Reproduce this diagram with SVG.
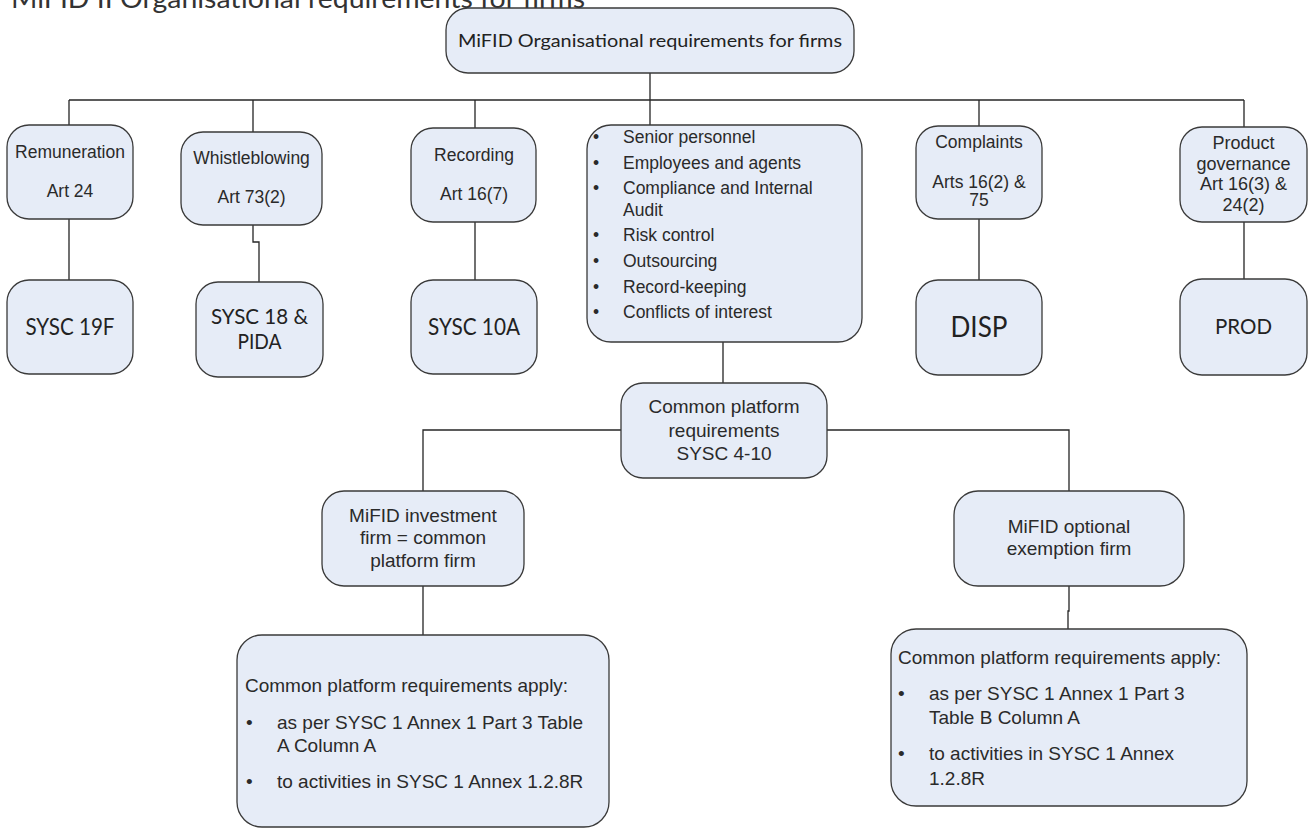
<svg xmlns="http://www.w3.org/2000/svg" width="1314" height="829" viewBox="0 0 1314 829">
<style>
.n{fill:#e6ecf7;stroke:#3a3a3a;stroke-width:1.3}
.c{fill:none;stroke:#262626;stroke-width:1.3}
.t{font-family:"Liberation Sans",Arial,sans-serif;fill:#2a2a2a;text-anchor:middle}
.l{font-family:"Liberation Sans",Arial,sans-serif;fill:#2a2a2a}
.k{font-family:Lato,"Open Sans",sans-serif;fill:#222;text-anchor:middle}
</style>
<rect width="1314" height="829" fill="#ffffff"/>
<text x="11" y="8" font-family="Lato,'Open Sans',sans-serif" font-size="27" fill="#333" textLength="574" lengthAdjust="spacingAndGlyphs">MiFID II Organisational requirements for firms</text>
<g id="connectors">
<path class="c" d="M650,73V100M69,100H1244M69,100V125M253,100V132M475,100V128M650,100V125M979,100V126M1244,100V127"/>
<path class="c" d="M69,219V280M253,225V242H259V282M475,222V280M979,219V280M1244,222V279"/>
<path class="c" d="M723,342V383M621,430H423V491M827,430H1069V491M423,586V635M1069,586V611H1068V629"/>
</g>
<g id="top"><rect class="n" x="446" y="8" width="408" height="65" rx="22"/>
<text class="k" x="650" y="47" font-size="17" textLength="384" lengthAdjust="spacingAndGlyphs">MiFID Organisational requirements for firms</text></g>
<g id="remuneration"><rect class="n" x="7" y="125" width="126" height="94" rx="22"/>
<text class="t" x="70" y="158" font-size="17.5">Remuneration</text><text class="t" x="70" y="197" font-size="17.5">Art 24</text></g>
<g id="whistleblowing"><rect class="n" x="181" y="132" width="141" height="93" rx="22"/>
<text class="t" x="251.5" y="164" font-size="17.5">Whistleblowing</text><text class="t" x="251.5" y="203" font-size="17.5">Art 73(2)</text></g>
<g id="recording"><rect class="n" x="411" y="128" width="125" height="94" rx="22"/>
<text class="t" x="474" y="161" font-size="17.5">Recording</text><text class="t" x="474" y="200" font-size="17.5">Art 16(7)</text></g>
<g id="senior"><rect class="n" x="587" y="125" width="275" height="217" rx="24"/>
<g class="l" font-size="17.5">
<text x="593" y="143">•</text><text x="623" y="143">Senior personnel</text>
<text x="593" y="169">•</text><text x="623" y="169">Employees and agents</text>
<text x="593" y="194">•</text><text x="623" y="194">Compliance and Internal</text>
<text x="623" y="216">Audit</text>
<text x="593" y="241">•</text><text x="623" y="241">Risk control</text>
<text x="593" y="267">•</text><text x="623" y="267">Outsourcing</text>
<text x="593" y="293">•</text><text x="623" y="293">Record-keeping</text>
<text x="593" y="318">•</text><text x="623" y="318">Conflicts of interest</text>
</g></g>
<g id="complaints"><rect class="n" x="916" y="126" width="126" height="93" rx="22"/>
<text class="t" x="979" y="148" font-size="17.5">Complaints</text><text class="t" x="979" y="188" font-size="17.5">Arts 16(2) &amp;</text><text class="t" x="979" y="206" font-size="17.5">75</text></g>
<g id="product"><rect class="n" x="1180" y="127" width="127" height="95" rx="22"/>
<text class="t" x="1243.5" y="149" font-size="18">Product</text><text class="t" x="1243.5" y="170" font-size="18">governance</text><text class="t" x="1243.5" y="190" font-size="18">Art 16(3) &amp;</text><text class="t" x="1243.5" y="211" font-size="18">24(2)</text></g>
<g id="sysc19f"><rect class="n" x="7" y="280" width="126" height="94" rx="22"/>
<text class="k" x="70" y="335" font-size="23" textLength="89" lengthAdjust="spacingAndGlyphs">SYSC 19F</text></g>
<g id="sysc18"><rect class="n" x="196" y="282" width="127" height="95" rx="22"/>
<text class="k" x="259.5" y="324" font-size="21" textLength="97" lengthAdjust="spacingAndGlyphs">SYSC 18 &amp;</text><text class="k" x="259.5" y="349" font-size="21" textLength="44" lengthAdjust="spacingAndGlyphs">PIDA</text></g>
<g id="sysc10a"><rect class="n" x="411" y="280" width="126" height="94" rx="22"/>
<text class="k" x="474" y="335" font-size="23" textLength="92" lengthAdjust="spacingAndGlyphs">SYSC 10A</text></g>
<g id="disp"><rect class="n" x="916" y="280" width="126" height="95" rx="22"/>
<text class="k" x="979" y="337" font-size="28" textLength="57" lengthAdjust="spacingAndGlyphs">DISP</text></g>
<g id="prod"><rect class="n" x="1180" y="279" width="127" height="96" rx="22"/>
<text class="k" x="1243.5" y="334" font-size="21" textLength="57" lengthAdjust="spacingAndGlyphs">PROD</text></g>
<g id="common"><rect class="n" x="621" y="383" width="206" height="95" rx="22"/>
<text class="t" x="724" y="413" font-size="19">Common platform</text><text class="t" x="724" y="437" font-size="19">requirements</text><text class="t" x="724" y="460" font-size="19">SYSC 4-10</text></g>
<g id="investment"><rect class="n" x="322" y="491" width="202" height="95" rx="22"/>
<text class="t" x="423" y="522" font-size="19">MiFID investment</text><text class="t" x="423" y="544" font-size="19">firm = common</text><text class="t" x="423" y="567" font-size="19">platform firm</text></g>
<g id="exemption"><rect class="n" x="954" y="491" width="230" height="95" rx="24"/>
<text class="t" x="1069" y="533" font-size="19">MiFID optional</text><text class="t" x="1069" y="555" font-size="19">exemption firm</text></g>
<g id="investment-apply"><rect class="n" x="237" y="635" width="372" height="192" rx="25"/>
<g class="l" font-size="19">
<text x="245" y="692">Common platform requirements apply:</text>
<text x="246" y="729">•</text><text x="277" y="729">as per SYSC 1 Annex 1 Part 3 Table</text>
<text x="277" y="752">A Column A</text>
<text x="246" y="788">•</text><text x="277" y="788">to activities in SYSC 1 Annex 1.2.8R</text>
</g></g>
<g id="exemption-apply"><rect class="n" x="891" y="629" width="356" height="177" rx="25"/>
<g class="l" font-size="19">
<text x="898" y="664">Common platform requirements apply:</text>
<text x="898" y="700">•</text><text x="929" y="700">as per SYSC 1 Annex 1 Part 3</text>
<text x="929" y="724">Table B Column A</text>
<text x="898" y="760">•</text><text x="929" y="760">to activities in SYSC 1 Annex</text>
<text x="929" y="785">1.2.8R</text>
</g></g>
</svg>
